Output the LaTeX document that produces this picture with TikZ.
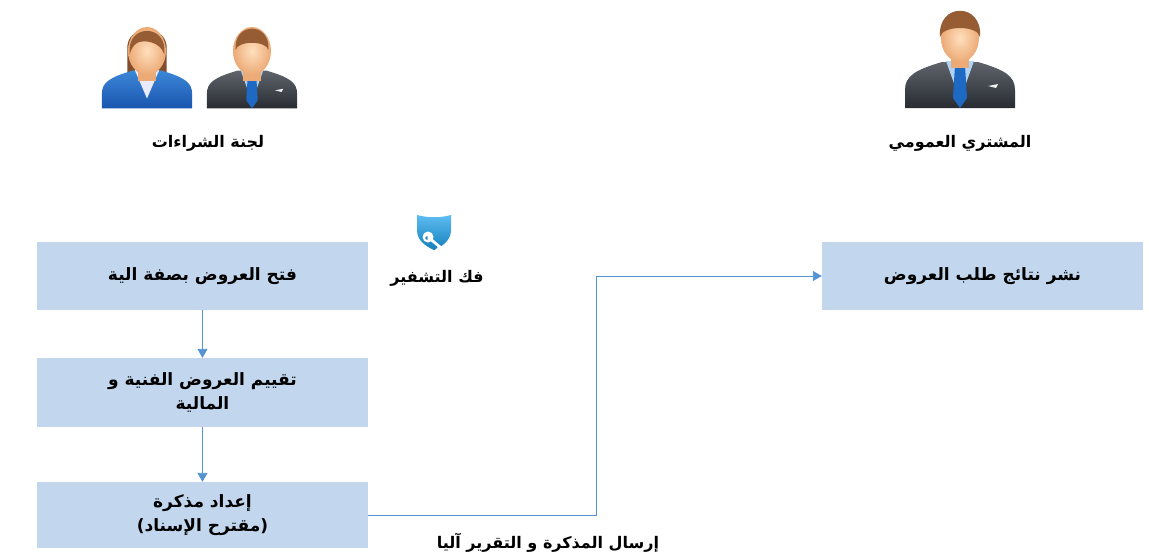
\documentclass[tikz,border=0pt]{standalone}
\usepackage{fontspec}
\usetikzlibrary{arrows.meta,shapes.geometric}
\TeXXeTstate=1
\newfontfamily\arabicfont[Script=Arabic]{DejaVu Sans}

\definecolor{boxfill}{RGB}{194,215,238}
\definecolor{linkblue}{RGB}{84,146,210}
\definecolor{skinin}{RGB}{255,224,190}
\definecolor{skinout}{RGB}{236,170,118}
\definecolor{hairbrown}{RGB}{150,92,52}
\definecolor{suitdark}{RGB}{40,44,50}
\definecolor{suitgrey}{RGB}{95,100,108}
\definecolor{suitblue}{RGB}{60,135,215}
\definecolor{suitdeep}{RGB}{25,85,175}
\definecolor{shirtblue}{RGB}{175,210,245}
\definecolor{tieblue}{RGB}{30,105,195}
\definecolor{shieldblue}{RGB}{25,160,235}

\tikzset{
  stepbox/.style={fill=boxfill, minimum width=331pt, minimum height=68pt,
    inner sep=0pt, align=center, font=\arabicfont\bfseries\fontsize{17}{24}\selectfont},
  caption/.style={inner sep=1pt, font=\arabicfont\bfseries\fontsize{16}{18}\selectfont},
  link/.style={draw=linkblue, line width=0.9pt,
    -{Triangle[length=9pt,width=10pt,fill=linkblue]}},
  % head and neck shared by the person icons
  headpart/.pic={
    \fill[skinout] (-9,10) rectangle (9,30);
    \shade[inner color=skinin, outer color=skinout] (0,0) ellipse [x radius=19, y radius=24];
  },
  manpic/.pic={
    \shade[top color=suitgrey, bottom color=suitdark]
      (-55,70) -- (-55,52) .. controls (-55,38) and (-45,32) .. (-18,24)
      -- (18,24) .. controls (45,32) and (55,38) .. (55,52) -- (55,70) -- cycle;
    \fill[shirtblue] (-14,23) -- (14,23) -- (0,62) -- cycle;
    \fill[tieblue] (-5,27) -- (5,27) -- (7,60) -- (0,70) -- (-7,60) -- cycle;
    \pic {headpart};
    \fill[hairbrown] (-20,-1) .. controls (-23,-36) and (23,-36) .. (20,-1)
      .. controls (18,-13) and (-18,-13) .. cycle;
    \fill[white!90!gray] (28,48) -- (38,46) -- (36,50) -- cycle;
  },
  womanpic/.pic={
    \fill[hairbrown!85!black] (-24,-2) .. controls (-26,-34) and (26,-34) .. (24,-2)
      -- (24,26) .. controls (14,30) and (-14,30) .. (-24,26) -- cycle;
    \shade[top color=suitblue, bottom color=suitdeep]
      (-55,70) -- (-55,52) .. controls (-55,38) and (-45,32) .. (-18,24)
      -- (18,24) .. controls (45,32) and (55,38) .. (55,52) -- (55,70) -- cycle;
    \fill[white!92!blue] (-15,23) -- (15,23) -- (0,58) -- cycle;
    \pic {headpart};
    \fill[hairbrown] (-21,4) .. controls (-26,-34) and (26,-34) .. (21,4)
      .. controls (16,-12) and (-4,-14) .. (-12,-10) .. controls (-18,-6) and (-20,0) .. cycle;
  },
  shieldpic/.pic={
    \shade[top color=shieldblue!70!white, bottom color=shieldblue!80!black]
      (-17,-15) .. controls (-6,-12) and (6,-12) .. (17,-15) -- (17,0)
      .. controls (17,10) and (9,16) .. (0,20) .. controls (-9,16) and (-17,10) .. (-17,0) -- cycle;
    \fill[white] (-6,7) circle [radius=5.5];
    \fill[shieldblue!80!black] (-7,8) circle [radius=1.8];
    \fill[white, rotate around={-40:(-6,7)}] (-6,5.6) rectangle (14,8.4);
    \fill[white, rotate around={-40:(-6,7)}] (8,8) rectangle (10.5,11.5);
  }
}

\begin{document}
\begin{tikzpicture}[x=1pt, y=-1pt]
\useasboundingbox (0,0) rectangle (1149,557);

% people
\pic[scale=0.82] (woman) at (147,51) {womanpic};
\pic[scale=0.82] (man) at (252,51) {manpic};
\pic (buyer) at (960,38) {manpic};
\node[caption] (committee) at (208,143) {\beginR لجنة الشراءات\endR};
\node[caption] (buyerlabel) at (960,143) {\beginR المشتري العمومي\endR};

% decryption mark
\pic (shield) at (434,230) {shieldpic};
\node[caption] (decrypt) at (437,278) {\beginR فك التشفير\endR};

% process steps
\node[stepbox] (open) at (202.5,276) {\beginR فتح العروض بصفة الية\endR};
\node[stepbox, minimum height=69pt] (eval) at (202.5,392.5)
  {\beginR تقييم العروض الفنية و\endR\\\beginR المالية\endR};
\node[stepbox, minimum height=66pt] (memo) at (202.5,515)
  {\beginR إعداد مذكرة\endR\\\beginR (مقترح الإسناد)\endR};
\node[stepbox, minimum width=321pt] (publish) at (982.5,276)
  {\beginR نشر نتائج طلب العروض\endR};

% connectors
\coordinate (turn) at (596,0);
\draw[link] (open) -- (eval);
\draw[link] (eval) -- (memo);
\draw[link] (memo.east) -- (memo.east -| turn) |- (publish.west);
\node[caption] (sendlabel) at (548,543) {\beginR إرسال المذكرة و التقرير آليا\endR};
\end{tikzpicture}
\end{document}
